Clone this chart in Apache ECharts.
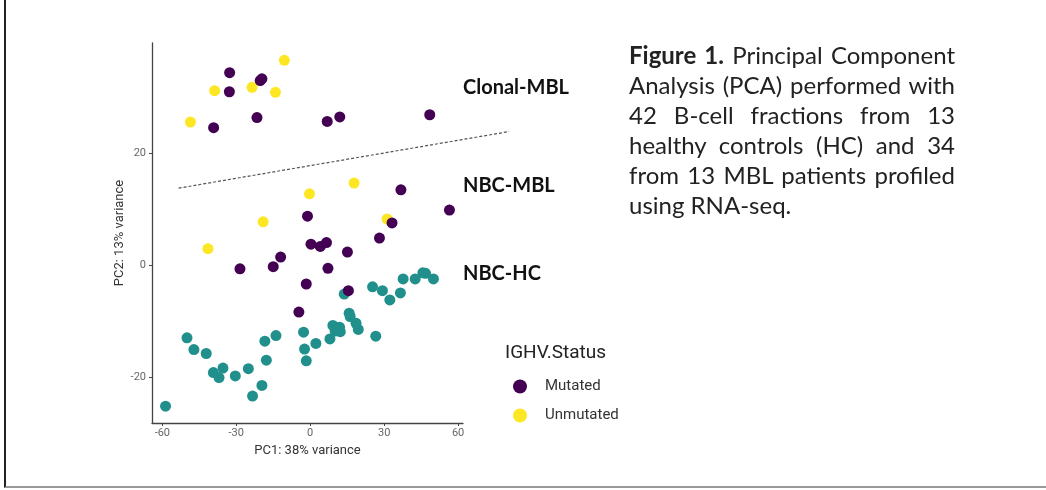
<!DOCTYPE html>
<html>
<head>
<meta charset="utf-8">
<script src="https://cdn.jsdelivr.net/npm/echarts@6/dist/echarts.min.js"></script>
<style>
  html, body { margin: 0; padding: 0; background: #fff; }
  #wrap { position: relative; width: 1046px; height: 490px; overflow: hidden; }
  #chart { position: absolute; left: 0; top: 0; width: 1046px; height: 490px; }
  #frame { position: absolute; left: 4px; top: 0; width: 1100px; height: 486px;
           border-left: 2px solid #222; border-bottom: 2px solid #999; }
  #caption { position: absolute; left: 629px; top: 40px; width: 326px;
             font-family: Lato, "Open Sans", sans-serif; font-size: 24px; color: #222;
             line-height: 30px; }
  #caption div { white-space: nowrap; text-align: justify; text-align-last: justify; }
  #caption div.last { text-align: left; text-align-last: left; }
</style>
</head>
<body>
<div id="wrap">
  <div id="frame"></div>
  <div id="chart"></div>
  <div id="caption">
    <div><b>Figure 1.</b> Principal Component</div>
    <div>Analysis (PCA) performed with</div>
    <div>42 B-cell fractions from 13</div>
    <div>healthy controls (HC) and 34</div>
    <div>from 13 MBL patients profiled</div>
    <div class="last">using RNA-seq.</div>
  </div>
</div>
<script>
// PC1 / PC2 coordinates
const mutatedPoints = [
  [-32.7, 34.3], [-32.8, 30.9], [-39.2, 24.5], [-21.6, 26.3], [-20.3, 32.9], [-19.6, 33.2],
  [6.9, 25.6], [12.0, 26.4], [48.5, 26.8],
  [36.8, 13.4], [56.5, 9.8], [-1.1, 8.7], [33.2, 7.5], [28.1, 4.8], [0.3, 3.7], [4.1, 3.3],
  [6.6, 4.0], [15.1, 2.3], [-12.0, 1.4], [-15.0, -0.3], [-28.5, -0.7], [7.2, -0.6],
  [-1.6, -3.4], [15.5, -4.6], [-4.6, -8.4]
];
const unmutatedPoints = [
  [-10.5, 36.5], [-38.8, 31.1], [-23.6, 31.7], [-14.1, 30.8], [-48.6, 25.5],
  [17.8, 14.6], [-0.3, 12.7], [-19.1, 7.7], [31.2, 8.2], [-41.5, 2.9]
];
const hcPoints = [
  [13.8, -5.2], [25.3, -3.9], [29.3, -4.6], [32.3, -6.25], [36.6, -5.0], [37.7, -2.5],
  [42.6, -2.5], [45.7, -1.4], [46.8, -1.5], [50.0, -2.5], [15.8, -8.6], [16.2, -9.2],
  [9.2, -10.8], [11.9, -11.1], [10.1, -11.8], [12.2, -11.9], [18.6, -10.4], [19.5, -11.5],
  [8.0, -13.2], [26.6, -12.7], [2.3, -14.0], [-2.7, -12.0], [-2.3, -15.0], [-1.6, -17.1],
  [-13.9, -12.6], [-18.4, -13.6], [-17.8, -17.0], [-19.6, -21.5], [-23.4, -23.4],
  [-25.1, -18.5], [-30.4, -19.8], [-35.4, -18.4], [-37.0, -20.1], [-39.3, -19.2],
  [-42.2, -15.8], [-47.2, -15.1], [-50.0, -13.0], [-58.7, -25.2]
];
// dashed separator between Clonal-MBL and the rest (runs past the panel edge)
const cutLine = [[-53.4, 13.7], [80.7, 23.8]];

const xTicks = [-60, -30, 0, 30, 60];
const yTicks = [-20, 0, 20];
const groupLabels = ['Clonal-MBL', 'NBC-MBL', 'NBC-HC'];

const colors = { mutated: '#440154', unmutated: '#FDE725', hc: '#21908C' };

const xMin = -64.2, xMax = 62, yMin = -28.2, yMax = 39.6;
const plotLeft = 152, plotRight = 463;
const pxPerX = (plotRight - plotLeft) / (xMax - xMin);
const xMaxWide = 90; // wider x extent for the overlay grid, same scale

const chart = echarts.init(document.getElementById('chart'));

const axisCommon = {
  axisLine: { show: true, onZero: false, lineStyle: { color: '#444', width: 1.3 } },
  axisTick: { show: true, length: 3, lineStyle: { color: '#444' } },
  splitLine: { show: false },
  nameLocation: 'middle',
  nameTextStyle: { fontFamily: 'Roboto', fontSize: 13, color: '#333' }
};

function pointSeries(name, data, color) {
  return {
    name,
    type: 'scatter',
    data,
    symbolSize: 11,
    itemStyle: { color, opacity: 1 },
    emphasis: { disabled: true }
  };
}

chart.setOption({
  animation: false,
  grid: [
    { left: plotLeft, right: 1046 - plotRight, top: 43, bottom: 67 },
    { left: plotLeft, width: (xMaxWide - xMin) * pxPerX, top: 43, bottom: 67 }
  ],
  xAxis: [
    Object.assign({}, axisCommon, {
      type: 'value', min: xMin, max: xMax,
      name: 'PC1: 38% variance', nameGap: 17,
      axisTick: Object.assign({}, axisCommon.axisTick, { customValues: xTicks }),
      axisLabel: { customValues: xTicks, fontFamily: 'Roboto', fontSize: 11, color: '#666', margin: 5 }
    }),
    { type: 'value', gridIndex: 1, min: xMin, max: xMaxWide, show: false }
  ],
  yAxis: [
    Object.assign({}, axisCommon, {
      type: 'value', min: yMin, max: yMax,
      name: 'PC2: 13% variance', nameGap: 18,
      axisTick: Object.assign({}, axisCommon.axisTick, { customValues: yTicks }),
      axisLabel: { customValues: yTicks, fontFamily: 'Roboto', fontSize: 11, color: '#666', margin: 6 }
    }),
    { type: 'value', gridIndex: 1, min: yMin, max: yMax, show: false }
  ],
  legend: {
    data: ['Mutated', 'Unmutated'],
    orient: 'vertical',
    left: 513, top: 379, padding: 0,
    itemWidth: 14, itemHeight: 14, itemGap: 14,
    icon: 'circle',
    textStyle: { fontFamily: 'Roboto', fontSize: 15, color: '#333', padding: [0, 0, 0, 13] }
  },
  graphic: [
    { type: 'text', left: 505, top: 344, style: { text: 'IGHV.Status', fontFamily: 'Roboto', fontSize: 19, fill: '#222' } },
    { type: 'text', left: 463, top: 78, style: { text: groupLabels[0], fontFamily: 'Lato', fontWeight: 'bold', fontSize: 20, fill: '#111' } },
    { type: 'text', left: 463, top: 176, style: { text: groupLabels[1], fontFamily: 'Lato', fontWeight: 'bold', fontSize: 20, fill: '#111' } },
    { type: 'text', left: 463, top: 264, style: { text: groupLabels[2], fontFamily: 'Lato', fontWeight: 'bold', fontSize: 20, fill: '#111' } }
  ],
  series: [
    {
      type: 'line',
      xAxisIndex: 1, yAxisIndex: 1,
      data: cutLine,
      symbol: 'none',
      silent: true,
      lineStyle: { color: '#555', width: 1.2, type: [3, 2] }
    },
    pointSeries('HC', hcPoints, colors.hc),
    pointSeries('Unmutated', unmutatedPoints, colors.unmutated),
    pointSeries('Mutated', mutatedPoints, colors.mutated)
  ]
});
</script>
</body>
</html>
